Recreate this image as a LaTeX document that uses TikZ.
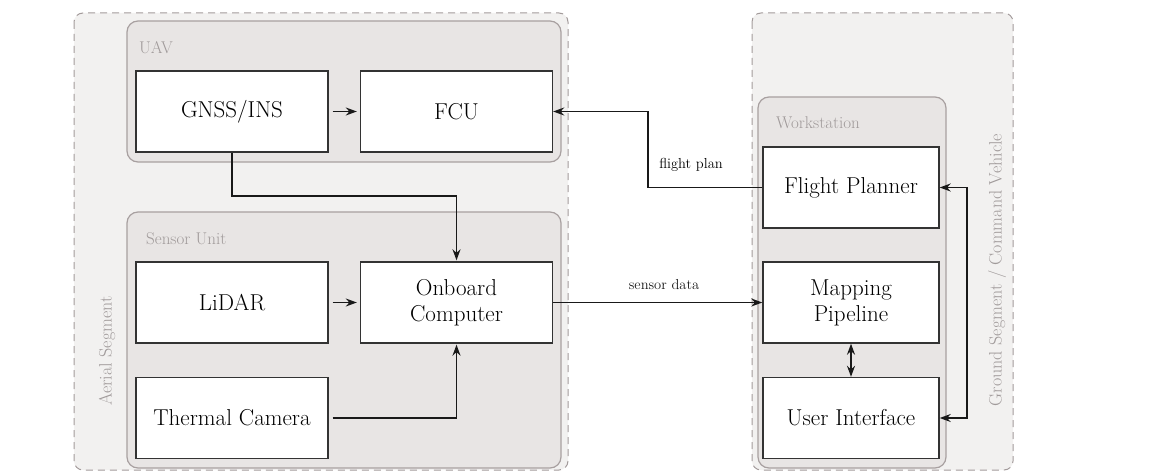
\documentclass[tikz,border=0pt]{standalone}
\usetikzlibrary{arrows.meta,positioning}
\definecolor{outerfill}{HTML}{F2F1F0}
\definecolor{outerline}{HTML}{A39B9B}
\definecolor{innerfill}{HTML}{E8E5E4}
\definecolor{innerline}{HTML}{A8A0A0}
\definecolor{labelgrey}{HTML}{A09A9A}
\definecolor{boxline}{HTML}{333333}
\tikzset{
  outerbox/.style={draw=outerline, fill=outerfill, dashed, dash pattern=on 7pt off 5pt, line width=1pt, rounded corners=9pt},
  innerbox/.style={draw=innerline, fill=innerfill, line width=1.2pt, rounded corners=11pt},
  block/.style={draw=boxline, fill=white, line width=1.4pt, minimum width=192pt, minimum height=81pt, inner sep=0pt, align=center, font=\fontsize{23}{26}\selectfont},
  wblock/.style={block, minimum width=176pt},
  grouplabel/.style={text=labelgrey, font=\fontsize{17}{20}\selectfont, anchor=base west, inner sep=0pt},
  sidelabel/.style={text=labelgrey, font=\fontsize{18}{21}\selectfont, rotate=90, inner sep=0pt},
  edgelabel/.style={font=\fontsize{14.5}{17}\selectfont, inner sep=0pt},
  arr/.style={-{Stealth[length=11pt,width=8pt]}, line width=1.4pt, black!90},
  dbl/.style={{Stealth[length=11pt,width=8pt]}-{Stealth[length=11pt,width=8pt]}, line width=1.4pt, black!90},
}
\begin{document}
\begin{tikzpicture}[x=1pt,y=-1pt]
\useasboundingbox (0,0) rectangle (1151,473);
% containers
\path[outerbox] (74,13) rectangle (568,470);
\path[outerbox] (752,13) rectangle (1013,470);
\path[innerbox] (127,21) rectangle (561,162);
\path[innerbox] (127,212) rectangle (561,468);
\path[innerbox] (758,97) rectangle (946,468);
\node[grouplabel] (uavlbl) at (139,54) {UAV};
\node[grouplabel] (senslbl) at (146,244) {Sensor Unit};
\node[grouplabel] (wslbl) at (776,129) {Workstation};
\node[sidelabel] (aerlbl) at (107,351) {Aerial Segment};
\node[sidelabel] (gndlbl) at (997,270) {Ground Segment / Command Vehicle};
% blocks
\node[block] (gnss) at (232,111.5) {GNSS/INS};
\node[block] (fcu) at (456.5,111.5) {FCU};
\node[block] (lidar) at (232,302.5) {LiDAR};
\node[block] (obc) at (456.5,302.5) {Onboard\\Computer};
\node[block] (thermal) at (232,418) {Thermal Camera};
\node[wblock] (fp) at (851,187.5) {Flight Planner};
\node[wblock] (map) at (851,302.5) {Mapping\\Pipeline};
\node[wblock] (ui) at (851,418) {User Interface};
% connectors
\coordinate (gbend) at (344,196);
\coordinate (fpbend) at (648,150);
\coordinate (rbend) at (967,300);
\draw[arr, shorten <=4pt, shorten >=3pt] (gnss.east) -- (fcu.west);
\draw[arr, shorten >=1pt] (gnss.south) |- (gbend) -| (obc.north);
\draw[arr, shorten <=4pt, shorten >=3pt] (lidar.east) -- (obc.west);
\draw[arr, shorten <=4pt, shorten >=1pt] (thermal.east) -| (obc.south);
\draw[arr] (obc.east) -- node[edgelabel, above=12pt, pos=0.53] (sdlbl) {sensor data} (map.west);
\draw[arr] (fp.west) -| (fpbend) |- (fcu.east);
\node[edgelabel] (fplbl) at (691,165) {flight plan};
\draw[dbl] (map.south) -- (ui.north);
\draw[dbl] (fp.east) -| (rbend) |- (ui.east);
\end{tikzpicture}
\end{document}
